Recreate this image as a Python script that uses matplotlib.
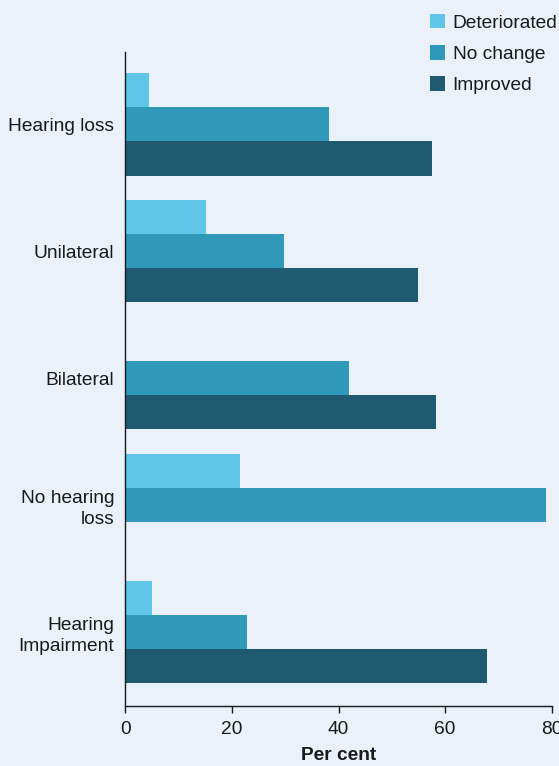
import matplotlib
matplotlib.use("Agg")
import matplotlib.pyplot as plt
import numpy as np

categories = ["Hearing loss", "Unilateral", "Bilateral", "No hearing\nloss", "Hearing\nImpairment"]
series_names = ["Deteriorated", "No change", "Improved"]
deteriorated = [4.5, 15.2, 0.0, 21.6, 5.0]
no_change = [38.3, 29.8, 42.0, 78.9, 22.9]
improved = [57.5, 55.0, 58.2, 0.0, 67.8]
colors = ["#60c6e7", "#3099ba", "#1f5a70"]
bg = "#eaf1f9"

plt.rcParams["font.family"] = ["Liberation Sans", "DejaVu Sans"]
FS = 13.8

fig = plt.figure(figsize=(5.59, 7.66), dpi=100, facecolor=bg)
ax = fig.add_axes([0.2242, 0.0783, 0.987 - 0.2242, 0.932 - 0.0783])
ax.set_facecolor(bg)

y = np.arange(len(categories))
h = 0.268
for i, (vals, name, c) in enumerate(zip([deteriorated, no_change, improved], series_names, colors)):
    ax.barh(y + (i - 1) * h, vals, height=h, color=c, label=name)

ax.set_xlim(0, 80)
ax.set_ylim(4.58, -0.57)
ax.set_xticks([0, 20, 40, 60, 80])
ax.set_yticks(y)
ax.set_yticklabels(categories, linespacing=1.3)
ax.tick_params(axis="y", length=0, pad=8, labelsize=FS, colors="#1a1a1a")
ax.tick_params(axis="x", length=5, width=1, pad=6, labelsize=FS, colors="#1a1a1a")
for s in ["top", "right"]:
    ax.spines[s].set_visible(False)
for s in ["left", "bottom"]:
    ax.spines[s].set_color("#1a1a1a")
    ax.spines[s].set_linewidth(1)
ax.set_xlabel("Per cent", fontsize=FS, fontweight="bold", labelpad=6.5, color="#1a1a1a")

leg = fig.legend(loc="upper right", bbox_to_anchor=(1.016, 0.996), frameon=False,
                 fontsize=FS, handlelength=0.8, handleheight=0.8, handletextpad=0.38,
                 labelspacing=0.7, borderaxespad=0.15)
for t in leg.get_texts():
    t.set_color("#1a1a1a")

fig.savefig("out.png", dpi=100, facecolor=bg)
